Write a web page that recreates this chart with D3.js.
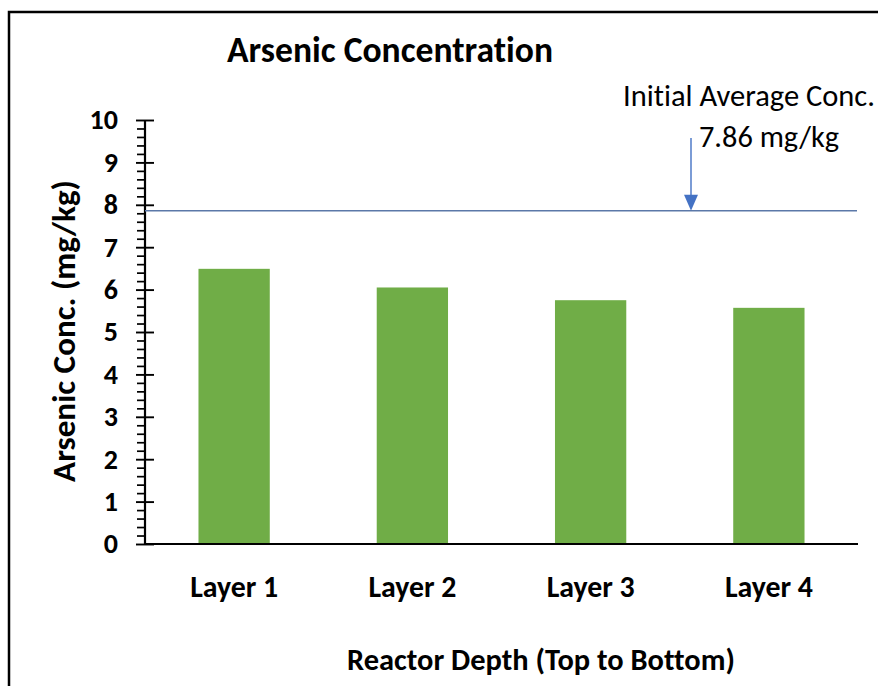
<!DOCTYPE html>
<html>
<head>
<meta charset="utf-8">
<script src="https://cdn.jsdelivr.net/npm/d3@7"></script>
<style>
  html, body { margin: 0; padding: 0; background: #fff; }
  svg { display: block; }
  text { font-family: Carlito, Calibri, Lato, "DejaVu Sans", sans-serif; fill: #000; font-variant-ligatures: none; font-feature-settings: "liga" 0; }
</style>
</head>
<body>
<svg id="chart" width="878" height="686"></svg>
<script>
// Arsenic concentration by reactor layer (mg/kg)
const categories = ["Layer 1", "Layer 2", "Layer 3", "Layer 4"];
const arsenicValues = [6.49, 6.05, 5.75, 5.57];
const yTickValues = [0, 1, 2, 3, 4, 5, 6, 7, 8, 9, 10];
const initialAverage = 7.86;
const annotationLines = ["Initial Average Conc.", "7.86 mg/kg"];
const titleText = "Arsenic Concentration";
const yTitleText = "Arsenic Conc. (mg/kg)";
const xTitleText = "Reactor Depth (Top to Bottom)";

const svg = d3.select("#chart");
const plot = { left: 145, right: 858, top: 120, bottom: 544 };

// Scale a text element's font size so its rendered width equals `w`
function fitWidth(sel, w) {
  const len = sel.node().getComputedTextLength();
  const fs = parseFloat(sel.attr("font-size"));
  sel.attr("font-size", (fs * w / len).toFixed(2));
  return sel;
}

// Frame around the chart
svg.append("rect")
  .attr("x", 9).attr("y", 12)
  .attr("width", 900).attr("height", 700)
  .attr("fill", "none").attr("stroke", "#000").attr("stroke-width", 2.5);

const x = d3.scaleBand()
  .domain(categories)
  .range([plot.left, plot.right])
  .paddingInner(0.6)
  .paddingOuter(0.3);

const y = d3.scaleLinear()
  .domain([0, 10])
  .range([plot.bottom, plot.top]);

// Bars
svg.append("g").selectAll("rect")
  .data(categories.map((c, i) => ({ c, v: arsenicValues[i] })))
  .join("rect")
  .attr("x", d => x(d.c))
  .attr("y", d => y(d.v))
  .attr("width", x.bandwidth())
  .attr("height", d => y(0) - y(d.v))
  .attr("fill", "#70AD47");

// Minor ticks on the y axis (outside only)
const minorValues = d3.range(0, 50).map(i => i * 0.2).filter(v => Math.abs(v - Math.round(v)) > 1e-6);
svg.append("g")
  .attr("transform", `translate(${plot.left},0)`)
  .call(d3.axisLeft(y).tickValues(minorValues).tickSize(8).tickFormat(""))
  .call(g => g.select(".domain").remove())
  .call(g => g.selectAll(".tick line").attr("stroke", "#000").attr("stroke-width", 1.7));

// Major ticks crossing the y axis, with labels
const yAxisG = svg.append("g")
  .attr("transform", `translate(${plot.left},0)`)
  .call(d3.axisLeft(y).tickValues(yTickValues).tickSize(9).tickPadding(18).tickFormat(d3.format("d")))
  .call(g => g.select(".domain").remove());
yAxisG.selectAll(".tick line").attr("x1", 9).attr("stroke", "#000").attr("stroke-width", 1.9);
yAxisG.selectAll(".tick text")
  .attr("font-family", null)
  .attr("font-size", 28)
  .attr("font-weight", "bold")
  .attr("fill", "#000");

// Axis lines
svg.append("line")
  .attr("x1", plot.left).attr("x2", plot.left)
  .attr("y1", y(0) + 1).attr("y2", y(10))
  .attr("stroke", "#000").attr("stroke-width", 2.2);

const xAxisG = svg.append("g")
  .attr("transform", `translate(0,${plot.bottom})`)
  .call(d3.axisBottom(x).tickSize(0).tickPadding(0))
  .call(g => g.select(".domain").remove());
svg.append("line")
  .attr("x1", plot.left).attr("x2", plot.right)
  .attr("y1", y(0)).attr("y2", y(0))
  .attr("stroke", "#000").attr("stroke-width", 2.2);
xAxisG.selectAll(".tick text")
  .attr("font-family", null)
  .attr("font-size", 26)
  .attr("font-weight", "bold")
  .attr("fill", "#000")
  .attr("dy", null)
  .attr("y", 597 - plot.bottom)
  .each(function () { fitWidth(d3.select(this), 88); });

// Initial average reference line
svg.append("line")
  .attr("x1", plot.left).attr("x2", plot.right - 1)
  .attr("y1", y(initialAverage)).attr("y2", y(initialAverage))
  .attr("stroke", "#5B78A8").attr("stroke-width", 1.4);

// Annotation arrow pointing down to the reference line
const arrowX = 691;
const tipY = y(initialAverage);
svg.append("line")
  .attr("x1", arrowX).attr("x2", arrowX)
  .attr("y1", 138).attr("y2", tipY - 14)
  .attr("stroke", "#4472C4").attr("stroke-width", 1.4);
svg.append("path")
  .attr("d", `M${arrowX - 7},${tipY - 16} L${arrowX + 7},${tipY - 16} L${arrowX},${tipY} Z`)
  .attr("fill", "#4472C4");

// Annotation text
const annX = [623, 699];
const annY = [106, 147];
const annW = [252, 140];
annotationLines.forEach((t, i) => {
  const el = svg.append("text")
    .attr("x", annX[i]).attr("y", annY[i])
    .attr("font-size", 26)
    .text(t);
  fitWidth(el, annW[i]);
});

// Title
fitWidth(svg.append("text")
  .attr("x", 390).attr("y", 62)
  .attr("text-anchor", "middle")
  .attr("font-size", 30).attr("font-weight", "bold")
  .text(titleText), 326);

// Y axis title
fitWidth(svg.append("text")
  .attr("transform", "translate(75,331) rotate(-90)")
  .attr("text-anchor", "middle")
  .attr("font-size", 28).attr("font-weight", "bold")
  .text(yTitleText), 302);

// X axis title
fitWidth(svg.append("text")
  .attr("x", 541).attr("y", 670)
  .attr("text-anchor", "middle")
  .attr("font-size", 26).attr("font-weight", "bold")
  .text(xTitleText), 388);
</script>
</body>
</html>
